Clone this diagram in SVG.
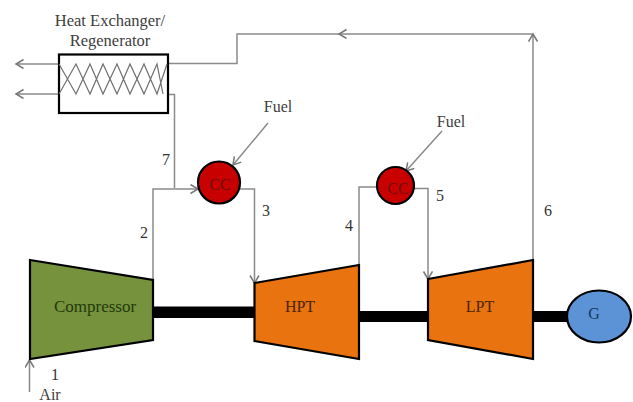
<svg xmlns="http://www.w3.org/2000/svg" width="633" height="402" viewBox="0 0 633 402">
<style>
text{font-family:"Liberation Serif","Times New Roman",serif;font-size:16px;fill:#404040;text-anchor:middle}
.big{font-size:16.500px}
.comp{font-size:17px;fill:#1f3a0a}
.orange{fill:#4a2505}
.gen{fill:#17375e}
.burn{fill:#6e1010}
.num{fill:#333}
.conn{fill:none;stroke:#8a8a8a;stroke-width:1.500}
.shaft{fill:#000;stroke:none}
.eq{stroke:#000;stroke-width:2.200;stroke-linejoin:miter}
.coil{fill:none;stroke:#6f6f6f;stroke-width:1.200}
</style>
<defs>
<marker id="ah" markerWidth="12" markerHeight="12" refX="9" refY="5" orient="auto" markerUnits="userSpaceOnUse">
<path d="M1.500 0.500 L9 5 L1.500 9.500" fill="none" stroke="#777" stroke-width="1.500"/>
</marker>
</defs>
<rect width="633" height="402" fill="#fff"/>
<g id="connectors">
<path class="conn" d="M339 34H237V63.500H168"/>
<path class="conn" marker-end="url(#ah)" d="M533 34H339"/>
<path class="conn" marker-end="url(#ah)" d="M533 260V34"/>
<path class="conn" marker-end="url(#ah)" d="M59 64H16"/>
<path class="conn" marker-end="url(#ah)" d="M59 94H16"/>
<path class="conn" d="M163 94.500H174.500V188"/>
<path class="conn" marker-end="url(#ah)" d="M153 280V189H198"/>
<path class="conn" marker-end="url(#ah)" d="M240 189H254.500V283"/>
<path class="conn" marker-end="url(#ah)" d="M268 123L233 165"/>
<path class="conn" d="M359 266V187H378"/>
<path class="conn" marker-end="url(#ah)" d="M414 188.500H428V279"/>
<path class="conn" marker-end="url(#ah)" d="M442 131L406 171"/>
<path class="conn" marker-end="url(#ah)" d="M29.500 392V360"/>
</g>
<g id="shafts">
<rect class="shaft" x="153" y="306.500" width="102" height="11.500"/>
<rect class="shaft" x="359" y="311" width="70" height="11"/>
<rect class="shaft" x="533" y="311" width="36" height="11"/>
</g>
<g id="regenerator">
<rect x="59" y="54.500" width="109" height="58.500" fill="#fff" class="eq"/>
<path class="coil" d="M59 64L76 94L90 64L103 94L117 64L130 94L144 64L157 94L167 64M59 94L76 64L90 94L103 64L117 94L130 64L144 94L157 64L163 94"/>
<text class="big" x="110" y="26">Heat Exchanger/</text>
<text class="big" x="110" y="46">Regenerator</text>
</g>
<g id="compressor">
<path class="eq" fill="#76923c" d="M30 260L153 280V340L30 359Z"/>
<text class="comp" x="95" y="312">Compressor</text>
</g>
<g id="hpt">
<path class="eq" fill="#e8730f" d="M254.500 283L359 265V359L254.500 341Z"/>
<text class="orange" x="300" y="312">HPT</text>
</g>
<g id="lpt">
<path class="eq" fill="#e8730f" d="M428 279L533 260V359L428 340Z"/>
<text class="orange" x="480" y="312">LPT</text>
</g>
<g id="generator">
<ellipse class="eq" cx="599" cy="316.500" rx="32" ry="26" fill="#5b93d6"/>
<text class="gen" x="594" y="319">G</text>
</g>
<g id="cc1">
<circle class="eq" cx="219" cy="182.500" r="21" fill="#c80000"/>
<text class="burn" x="220" y="190">CC</text>
</g>
<g id="cc2">
<circle class="eq" cx="395.500" cy="185.500" r="18.500" fill="#c80000"/>
<text class="burn" x="398" y="194">CC</text>
</g>
<g id="labels">
<text x="278" y="112">Fuel</text>
<text x="451" y="127">Fuel</text>
<text class="num" x="166" y="165">7</text>
<text class="num" x="266" y="216">3</text>
<text class="num" x="144" y="238">2</text>
<text class="num" x="349" y="231">4</text>
<text class="num" x="440" y="201">5</text>
<text class="num" x="548" y="216">6</text>
<text class="num" x="55" y="380">1</text>
<text x="50" y="400">Air</text>
</g>
</svg>
